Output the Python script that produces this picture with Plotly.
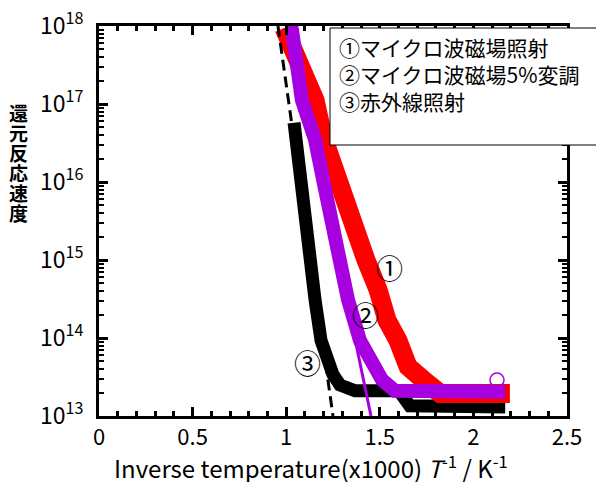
import math
import plotly.graph_objects as go

# ---- data ----
# (3) infrared irradiation – black band
x_ir = [1.042, 1.063, 1.095, 1.133, 1.154, 1.186, 1.213, 1.250, 1.287, 1.368, 1.603, 1.66, 2.17]
y_ir = [5.75e16, 1.9e16, 5.9e15, 1.0e15, 3.1e14, 9.3e13, 5.2e13, 3.4e13, 2.5e13, 2.1e13, 2.1e13, 1.35e13, 1.3e13]

# (1) microwave magnetic field irradiation – red band
x_mw = [0.988, 1.052, 1.154, 1.197, 1.255, 1.325, 1.373, 1.426, 1.490, 1.538, 1.597, 1.651, 1.741, 1.822, 2.195]
y_mw = [9.4e17, 4.5e17, 1.12e17, 3.8e16, 1.4e16, 5.4e15, 2.4e15, 1.0e15, 4.2e14, 1.7e14, 9.3e13, 4.3e13, 2.8e13, 1.95e13, 1.95e13]

# (2) microwave magnetic field 5% modulation – purple band
x_mod = [1.025, 1.031, 1.084, 1.154, 1.197, 1.234, 1.277, 1.330, 1.394, 1.448, 1.512, 1.581, 2.169]
y_mod = [1.0e18, 8.9e17, 1.12e17, 3.5e16, 1.07e16, 3.8e15, 1.0e15, 3.1e14, 9.3e13, 5.2e13, 2.9e13, 2.1e13, 2.05e13]
# stray open-circle point of series (2)
x_mod_pt = [2.126]
y_mod_pt = [2.9e13]

# fit lines
x_fit_ir = [0.956, 1.25]
y_fit_ir = [1e18, 1e13]
x_fit_mod = [1.02, 1.453]
y_fit_mod = [1e18, 1e13]

# labels
legend_lines = ["①マイクロ波磁場照射", "②マイクロ波磁場5%変調", "③赤外線照射"]
curve_labels = ["①", "②", "③"]
curve_label_x = [1.554, 1.426, 1.116]
curve_label_y = [7.9e14, 2.0e14, 4.9e13]
y_title_chars = list("還元反応速度")
x_tick_vals = [0, 0.5, 1, 1.5, 2, 2.5]
x_tick_text = ["0", "0.5", "1", "1.5", "2", "2.5"]
y_decades = [13, 14, 15, 16, 17, 18]

RED = "#FF0000"
PURPLE = "#A600E0"
FONT = "Noto Sans CJK JP"

W, H = 596, 482
L, R, T, B = 99, 29, 26, 66
pw, ph = W - L - R, H - T - B


def px_to_paper(px, py):
    return (px - L) / pw, (H - B - py) / ph


fig = go.Figure()
fig.add_trace(go.Scatter(x=x_ir, y=y_ir, mode="lines",
                         line=dict(color="black", width=13), showlegend=False))
fig.add_trace(go.Scatter(x=x_mw, y=y_mw, mode="lines",
                         line=dict(color=RED, width=19), showlegend=False))
fig.add_trace(go.Scatter(x=x_mod, y=y_mod, mode="lines",
                         line=dict(color=PURPLE, width=14), showlegend=False))
fig.add_trace(go.Scatter(x=x_mod_pt, y=y_mod_pt, mode="markers",
                         marker=dict(symbol="circle-open", size=14, color=PURPLE,
                                     line=dict(width=1.5, color=PURPLE)),
                         showlegend=False))
fig.add_trace(go.Scatter(x=x_fit_ir, y=y_fit_ir, mode="lines",
                         line=dict(color="black", width=3, dash="11px,6px"), showlegend=False))
fig.add_trace(go.Scatter(x=x_fit_mod, y=y_fit_mod, mode="lines",
                         line=dict(color=PURPLE, width=3), showlegend=False))

for t, xv, yv in zip(curve_labels, curve_label_x, curve_label_y):
    fig.add_annotation(x=xv, y=math.log10(yv), xref="x", yref="y", text=t,
                       xanchor="center", yanchor="middle",
                       showarrow=False, font=dict(family=FONT, size=27, color="black"))

# legend box
bx0, by1 = px_to_paper(330, 28)
bx1, by0 = px_to_paper(600, 145)
fig.add_shape(type="rect", xref="paper", yref="paper", x0=bx0, x1=bx1, y0=by0, y1=by1,
              line=dict(color="black", width=1), fillcolor="white", layer="above")
for i, t in enumerate(legend_lines):
    ax, ay = px_to_paper(337, 47 + 27 * i)
    fig.add_annotation(x=ax, y=ay, xref="paper", yref="paper", text=t,
                       xanchor="left", yanchor="middle", showarrow=False,
                       font=dict(family=FONT, size=21, color="black"))

# y title, stacked characters
for i, ch in enumerate(y_title_chars):
    ax, ay = px_to_paper(18, 112 + 20 * i)
    fig.add_annotation(x=ax, y=ay, xref="paper", yref="paper", text="<b>" + ch + "</b>",
                       xanchor="center", yanchor="middle",
                       showarrow=False, font=dict(family=FONT, size=19, color="black"))

# x title
ax, ay = px_to_paper(311, 467)
fig.add_annotation(x=ax, y=ay, xref="paper", yref="paper",
                   text="Inverse temperature(x1000) <i>T</i><sup>-1</sup> / K<sup>-1</sup>",
                   xanchor="center", yanchor="middle",
                   showarrow=False, font=dict(family=FONT, size=24, color="black"))

x_minor = [round(0.1 * k, 1) for k in range(26) if k % 5 != 0]
y_minor = [m * 10 ** d for d in y_decades[:-1] for m in range(2, 10)]

axis_common = dict(showline=True, linecolor="black", linewidth=3, mirror="allticks",
                   ticks="inside", ticklen=9, tickwidth=3, tickcolor="black",
                   showgrid=False, zeroline=False, automargin=False,
                   ticklabeloverflow="allow")
fig.update_xaxes(range=[0, 2.5], tickvals=x_tick_vals, ticktext=x_tick_text,
                 tickfont=dict(family=FONT, size=22, color="black"),
                 minor=dict(ticks="inside", ticklen=5, tickwidth=3, tickcolor="black",
                            tickvals=x_minor, showgrid=False),
                 **axis_common)
fig.update_yaxes(type="log", range=[13, 18],
                 tickvals=[10 ** d for d in y_decades],
                 ticktext=["10<sup>%d</sup>" % d for d in y_decades],
                 tickfont=dict(family=FONT, size=23, color="black"),
                 ticklabelstandoff=8,
                 minor=dict(ticks="inside", ticklen=5, tickwidth=2, tickcolor="black",
                            tickvals=y_minor, showgrid=False),
                 **axis_common)

fig.update_layout(width=W, height=H, margin=dict(l=L, r=R, t=T, b=B, autoexpand=False),
                  plot_bgcolor="white", paper_bgcolor="white",
                  font=dict(family=FONT, color="black"), showlegend=False)

fig.write_html("out.html", config={"displayModeBar": False},
               post_script="document.body.style.margin='0';document.body.style.overflow='hidden';")
